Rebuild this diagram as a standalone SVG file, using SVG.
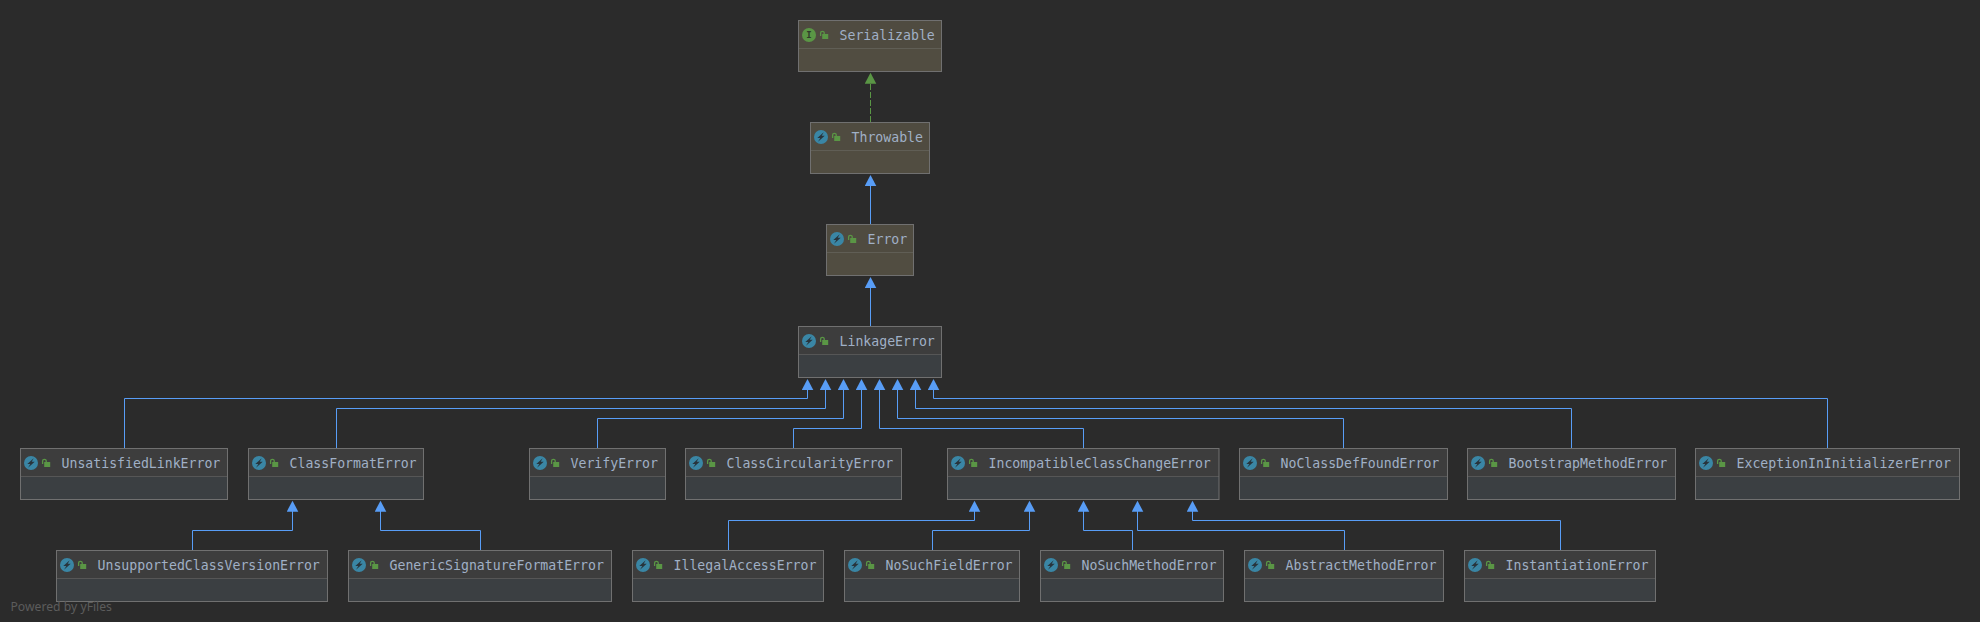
<svg xmlns="http://www.w3.org/2000/svg" width="1980" height="622" viewBox="0 0 1980 622">
<style>
.bg{fill:#2b2b2b}
.head{fill:#3d3d3d}
.body{fill:#3b3f42}
.hl .head{fill:#4f4b40}
.hl .body{fill:#514d41}
.frame{fill:none;stroke:#707070;stroke-width:1}
.div{stroke:#565656;stroke-width:1}
.hl .div{stroke:#605e55}
.name{font-family:"DejaVu Sans Mono","Liberation Mono",monospace;font-size:13.2px;fill:#a0b0c6}
.edge{fill:none;stroke:#589df6;stroke-width:1;marker-end:url(#tri)}
.impl{fill:none;stroke:#5a9645;stroke-width:1;stroke-dasharray:6 2;marker-end:url(#tri-g)}
.credit{font-family:"Noto Sans","DejaVu Sans",sans-serif;font-size:12.2px;fill:#5c5c5c}
</style>
<defs>
<marker id="tri" markerUnits="userSpaceOnUse" markerWidth="12" markerHeight="12" viewBox="0 0 12 12" refX="8" refY="6" orient="auto"><path d="M0 .2L11 6L0 11.8z" fill="#589df6"/></marker>
<marker id="tri-g" markerUnits="userSpaceOnUse" markerWidth="12" markerHeight="12" viewBox="0 0 12 12" refX="8" refY="6" orient="auto"><path d="M0 .2L11 6L0 11.8z" fill="#5a9645"/></marker>
<g id="lock"><rect x="23.7" y="13.5" width="6" height="5" fill="#5a9645"/><path d="M22.1 15.5V12.6a1.8 1.8 0 0 1 3.6 0V13.5" fill="none" stroke="#5a9645" stroke-width="1.3"/></g>
<g id="cls"><circle cx="10.5" cy="14.5" r="7" fill="#3a86a5"/><path d="M13.2 9.8L6.8 15.5H9.8L7.5 19.2L14.2 13.2H11.2z" fill="#28343c"/></g>
<g id="ifc"><circle cx="10.5" cy="14.5" r="7" fill="#5a9645"/><text x="10.5" y="17.6" text-anchor="middle" font-family="'DejaVu Sans Mono',monospace" font-size="9px" font-weight="bold" fill="#2f3a2a">I</text></g>
</defs>
<rect class="bg" width="1980" height="622"/>
<g id="connectors">
<polyline class="impl" points="870.5,122 870.5,75.7"/>
<polyline class="edge" points="870.5,224 870.5,178"/>
<polyline class="edge" points="870.5,326 870.5,280"/>
<polyline class="edge" points="124.5,448 124.5,398.5 807.5,398.5 807.5,382"/>
<polyline class="edge" points="336.5,448 336.5,408.5 825.5,408.5 825.5,382"/>
<polyline class="edge" points="597.5,448 597.5,418.5 843.5,418.5 843.5,382"/>
<polyline class="edge" points="793.5,448 793.5,428.5 861.5,428.5 861.5,382"/>
<polyline class="edge" points="1083.5,448 1083.5,428.5 879.5,428.5 879.5,382"/>
<polyline class="edge" points="1343.5,448 1343.5,418.5 897.5,418.5 897.5,382"/>
<polyline class="edge" points="1571.5,448 1571.5,408.5 915.5,408.5 915.5,382"/>
<polyline class="edge" points="1827.5,448 1827.5,398.5 933.5,398.5 933.5,382"/>
<polyline class="edge" points="192.5,550 192.5,530.5 292.5,530.5 292.5,503.7"/>
<polyline class="edge" points="480.5,550 480.5,530.5 380.5,530.5 380.5,503.7"/>
<polyline class="edge" points="728.5,550 728.5,520.5 974.5,520.5 974.5,503.7"/>
<polyline class="edge" points="932.5,550 932.5,530.5 1029.5,530.5 1029.5,503.7"/>
<polyline class="edge" points="1132.5,550 1132.5,530.5 1083.5,530.5 1083.5,503.7"/>
<polyline class="edge" points="1344.5,550 1344.5,530.5 1137.5,530.5 1137.5,503.7"/>
<polyline class="edge" points="1560.5,550 1560.5,520.5 1192.5,520.5 1192.5,503.7"/>
</g>
<g id="Serializable" class="hl" transform="translate(798.5,20.5)"><rect class="body" width="143" height="51"/><rect class="head" width="143" height="28"/><line class="div" x2="143" y1="28" y2="28"/><rect class="frame" width="143" height="51"/><use href="#ifc"/><use href="#lock"/><text class="name" x="41" y="19">Serializable</text></g>
<g id="Throwable" class="hl" transform="translate(810.5,122.5)"><rect class="body" width="119" height="51"/><rect class="head" width="119" height="28"/><line class="div" x2="119" y1="28" y2="28"/><rect class="frame" width="119" height="51"/><use href="#cls"/><use href="#lock"/><text class="name" x="41" y="19">Throwable</text></g>
<g id="Error" class="hl" transform="translate(826.5,224.5)"><rect class="body" width="87" height="51"/><rect class="head" width="87" height="28"/><line class="div" x2="87" y1="28" y2="28"/><rect class="frame" width="87" height="51"/><use href="#cls"/><use href="#lock"/><text class="name" x="41" y="19">Error</text></g>
<g id="LinkageError" transform="translate(798.5,326.5)"><rect class="body" width="143" height="51"/><rect class="head" width="143" height="28"/><line class="div" x2="143" y1="28" y2="28"/><rect class="frame" width="143" height="51"/><use href="#cls"/><use href="#lock"/><text class="name" x="41" y="19">LinkageError</text></g>
<g id="UnsatisfiedLinkError" transform="translate(20.5,448.5)"><rect class="body" width="207" height="51"/><rect class="head" width="207" height="28"/><line class="div" x2="207" y1="28" y2="28"/><rect class="frame" width="207" height="51"/><use href="#cls"/><use href="#lock"/><text class="name" x="41" y="19">UnsatisfiedLinkError</text></g>
<g id="ClassFormatError" transform="translate(248.5,448.5)"><rect class="body" width="175" height="51"/><rect class="head" width="175" height="28"/><line class="div" x2="175" y1="28" y2="28"/><rect class="frame" width="175" height="51"/><use href="#cls"/><use href="#lock"/><text class="name" x="41" y="19">ClassFormatError</text></g>
<g id="VerifyError" transform="translate(529.5,448.5)"><rect class="body" width="136" height="51"/><rect class="head" width="136" height="28"/><line class="div" x2="136" y1="28" y2="28"/><rect class="frame" width="136" height="51"/><use href="#cls"/><use href="#lock"/><text class="name" x="41" y="19">VerifyError</text></g>
<g id="ClassCircularityError" transform="translate(685.5,448.5)"><rect class="body" width="216" height="51"/><rect class="head" width="216" height="28"/><line class="div" x2="216" y1="28" y2="28"/><rect class="frame" width="216" height="51"/><use href="#cls"/><use href="#lock"/><text class="name" x="41" y="19">ClassCircularityError</text></g>
<g id="IncompatibleClassChangeError" transform="translate(947.5,448.5)"><rect class="body" width="271.5" height="51"/><rect class="head" width="271.5" height="28"/><line class="div" x2="271.5" y1="28" y2="28"/><rect class="frame" width="271.5" height="51"/><use href="#cls"/><use href="#lock"/><text class="name" x="41" y="19">IncompatibleClassChangeError</text></g>
<g id="NoClassDefFoundError" transform="translate(1239.5,448.5)"><rect class="body" width="208" height="51"/><rect class="head" width="208" height="28"/><line class="div" x2="208" y1="28" y2="28"/><rect class="frame" width="208" height="51"/><use href="#cls"/><use href="#lock"/><text class="name" x="41" y="19">NoClassDefFoundError</text></g>
<g id="BootstrapMethodError" transform="translate(1467.5,448.5)"><rect class="body" width="208" height="51"/><rect class="head" width="208" height="28"/><line class="div" x2="208" y1="28" y2="28"/><rect class="frame" width="208" height="51"/><use href="#cls"/><use href="#lock"/><text class="name" x="41" y="19">BootstrapMethodError</text></g>
<g id="ExceptionInInitializerError" transform="translate(1695.5,448.5)"><rect class="body" width="264" height="51"/><rect class="head" width="264" height="28"/><line class="div" x2="264" y1="28" y2="28"/><rect class="frame" width="264" height="51"/><use href="#cls"/><use href="#lock"/><text class="name" x="41" y="19">ExceptionInInitializerError</text></g>
<g id="UnsupportedClassVersionError" transform="translate(56.5,550.5)"><rect class="body" width="271" height="51"/><rect class="head" width="271" height="28"/><line class="div" x2="271" y1="28" y2="28"/><rect class="frame" width="271" height="51"/><use href="#cls"/><use href="#lock"/><text class="name" x="41" y="19">UnsupportedClassVersionError</text></g>
<g id="GenericSignatureFormatError" transform="translate(348.5,550.5)"><rect class="body" width="263" height="51"/><rect class="head" width="263" height="28"/><line class="div" x2="263" y1="28" y2="28"/><rect class="frame" width="263" height="51"/><use href="#cls"/><use href="#lock"/><text class="name" x="41" y="19">GenericSignatureFormatError</text></g>
<g id="IllegalAccessError" transform="translate(632.5,550.5)"><rect class="body" width="191" height="51"/><rect class="head" width="191" height="28"/><line class="div" x2="191" y1="28" y2="28"/><rect class="frame" width="191" height="51"/><use href="#cls"/><use href="#lock"/><text class="name" x="41" y="19">IllegalAccessError</text></g>
<g id="NoSuchFieldError" transform="translate(844.5,550.5)"><rect class="body" width="175" height="51"/><rect class="head" width="175" height="28"/><line class="div" x2="175" y1="28" y2="28"/><rect class="frame" width="175" height="51"/><use href="#cls"/><use href="#lock"/><text class="name" x="41" y="19">NoSuchFieldError</text></g>
<g id="NoSuchMethodError" transform="translate(1040.5,550.5)"><rect class="body" width="183" height="51"/><rect class="head" width="183" height="28"/><line class="div" x2="183" y1="28" y2="28"/><rect class="frame" width="183" height="51"/><use href="#cls"/><use href="#lock"/><text class="name" x="41" y="19">NoSuchMethodError</text></g>
<g id="AbstractMethodError" transform="translate(1244.5,550.5)"><rect class="body" width="199" height="51"/><rect class="head" width="199" height="28"/><line class="div" x2="199" y1="28" y2="28"/><rect class="frame" width="199" height="51"/><use href="#cls"/><use href="#lock"/><text class="name" x="41" y="19">AbstractMethodError</text></g>
<g id="InstantiationError" transform="translate(1464.5,550.5)"><rect class="body" width="191" height="51"/><rect class="head" width="191" height="28"/><line class="div" x2="191" y1="28" y2="28"/><rect class="frame" width="191" height="51"/><use href="#cls"/><use href="#lock"/><text class="name" x="41" y="19">InstantiationError</text></g>
<text class="credit" x="10.5" y="610.5">Powered by yFiles</text>
</svg>
